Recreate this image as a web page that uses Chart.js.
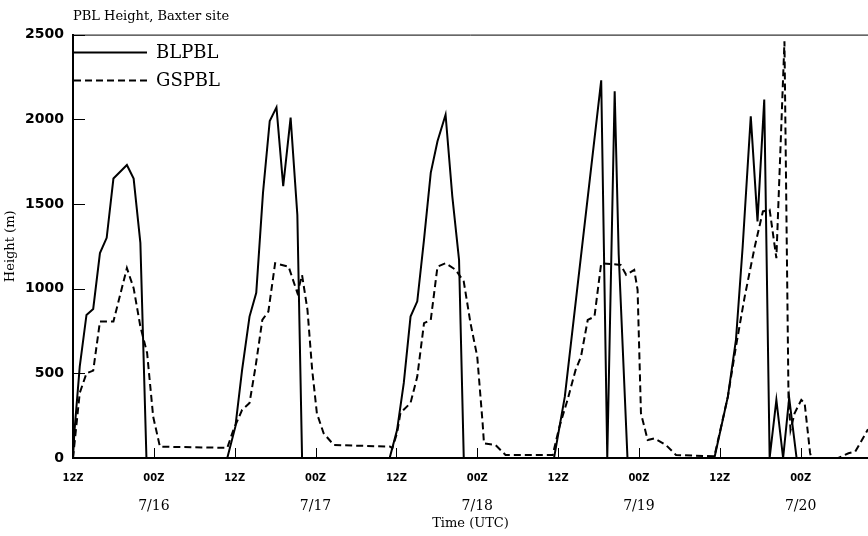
<!DOCTYPE html>
<html>
<head>
<meta charset="utf-8">
<script src="https://cdn.jsdelivr.net/npm/chart.js@4.4.1/dist/chart.umd.min.js"></script>
<style>
  html, body { margin: 0; padding: 0; background: #fff; }
  #c { display: block; }
</style>
</head>
<body>
<canvas id="c" width="868" height="536"></canvas>
<script>
// ---- Data (hours since 12Z 7/15, heights in m) ----
const blHours = [0, 0.2, 1, 2, 3, 4, 5, 6, 8, 9, 10, 10.9,
  22.9, 24.1, 25.1, 26.2, 27.2, 28.2, 29.2, 30.2, 31.2, 32.3, 33.3, 34.0,
  47.0, 48.1, 49.1, 50.1, 51.1, 52.1, 53.1, 54.1, 55.3, 56.3, 57.3, 58.0,
  71.4, 73.0, 78.4, 79.3, 80.4, 81.0, 82.3,
  95.2, 97.2, 98.4, 99.4, 100.6, 101.6, 102.6, 103.4, 104.4, 105.4, 106.3, 107.4, 118];
const blValues = [0, 150, 540, 845, 880, 1210, 1300, 1650, 1730, 1650, 1270, 0,
  0, 185, 520, 835, 975, 1565, 1990, 2070, 1605, 2010, 1435, 0,
  0, 165, 443, 835, 925, 1289, 1684, 1870, 2027, 1545, 1170, 0,
  0, 362, 2230, 0, 2165, 1200, 0,
  0, 362, 697, 1249, 2017, 1397, 2116, 0, 343, 0, 355, 0, 0];

const gsHours = [0, 1, 2, 3, 4, 6, 8, 9, 10, 11, 11.9, 12.9,
  22.9, 23.8, 25.1, 26.2, 27.1, 28.1, 29.0, 30.0, 32.0, 33.3, 34.0, 34.8, 35.5, 36.2, 37.2, 38.7,
  47.1, 47.4, 48.1, 48.6, 50.1, 51.1, 52.1, 53.1, 54.1, 55.3, 56.8, 58.0, 59.0, 60.0, 60.8, 61.0, 62.7, 64.2,
  71.2, 72.2, 73.4, 74.6, 75.4, 76.4, 77.4, 78.4, 81.3, 82.1, 83.3, 83.8, 84.3, 85.3, 86.3, 88.0, 89.5,
  95.2, 97.2, 98.4, 99.7, 101.2, 102.4, 103.4, 104.4, 105.6, 106.2, 106.5, 107.1, 108.1, 108.6, 109.4, 109.6,
  113.6, 115.1, 116.1, 117.1, 118];
const gsValues = [0, 384, 500, 516, 806, 806, 1121, 1003, 776, 620, 244, 67,
  60, 165, 284, 325, 540, 815, 865, 1150, 1130, 975, 1080, 875, 520, 264, 146, 77,
  67, 57, 148, 266, 325, 481, 796, 815, 1130, 1150, 1111, 1042, 796, 599, 205, 87, 77, 18,
  18, 185, 343, 520, 599, 815, 835, 1150, 1140, 1082, 1111, 993, 264, 106, 116, 77, 18,
  10, 362, 658, 953, 1249, 1456, 1466, 1180, 2460, 362, 165, 264, 343, 323, 30, 0,
  0, 28, 37, 106, 170];

const seriesNames = ['BLPBL', 'GSPBL'];
const yTicks = [0, 500, 1000, 1500, 2000, 2500];
const xTickHours = [0, 12, 24, 36, 48, 60, 72, 84, 96, 108];
const xTickLabels = ['12Z', '00Z', '12Z', '00Z', '12Z', '00Z', '12Z', '00Z', '12Z', '00Z'];
const dateHours = [12, 36, 60, 84, 108];
const dateLabels = ['7/16', '7/17', '7/18', '7/19', '7/20'];
const titleText = 'PBL Height, Baxter site';
const yTitle = 'Height (m)';
const xTitle = 'Time (UTC)';

const toPoints = (hs, vs) => hs.map((h, i) => ({ x: h, y: vs[i] }));

Chart.defaults.font.family = "'DejaVu Serif', serif";
Chart.defaults.color = '#000';

const deco = {
  id: 'deco',
  afterDraw(chart) {
    const { ctx, chartArea: a, scales } = chart;
    const x = scales.x, y = scales.y;
    ctx.save();
    ctx.strokeStyle = '#000';
    ctx.lineWidth = 1;
    ctx.beginPath();
    // top frame line
    ctx.moveTo(a.left, a.top + 0.5);
    ctx.lineTo(a.right, a.top + 0.5);
    // inward x ticks
    x.ticks.forEach(t => {
      if (t.value <= x.min || t.value >= x.max) return;
      const px = Math.round(x.getPixelForValue(t.value)) + 0.5;
      ctx.moveTo(px, a.bottom);
      ctx.lineTo(px, a.bottom - 10);
    });
    // inward y ticks
    y.ticks.forEach(t => {
      if (t.value <= y.min) return;
      const py = Math.round(y.getPixelForValue(t.value)) + 0.5;
      ctx.moveTo(a.left, py);
      ctx.lineTo(a.left + 12, py);
    });
    ctx.stroke();
    // legend inside the plot
    const rows = [18, 46];
    chart.data.datasets.forEach((ds, i) => {
      const ly = a.top + rows[i];
      ctx.beginPath();
      ctx.lineWidth = ds.borderWidth;
      ctx.setLineDash(ds.borderDash || []);
      ctx.moveTo(a.left + 1, ly);
      ctx.lineTo(a.left + 74, ly);
      ctx.stroke();
      ctx.setLineDash([]);
      ctx.fillStyle = '#000';
      ctx.font = "18px 'DejaVu Serif'";
      ctx.textBaseline = 'middle';
      ctx.textAlign = 'left';
      ctx.fillText(ds.label, a.left + 83, ly + 1);
    });
    ctx.restore();
  }
};

new Chart(document.getElementById('c'), {
  type: 'line',
  data: {
    datasets: [
      { label: seriesNames[0], data: toPoints(blHours, blValues), borderColor: '#000', borderWidth: 2,
        pointRadius: 0, tension: 0, fill: false },
      { label: seriesNames[1], data: toPoints(gsHours, gsValues), borderColor: '#000', borderWidth: 2,
        borderDash: [7, 4], pointRadius: 0, tension: 0, fill: false }
    ]
  },
  options: {
    responsive: false,
    devicePixelRatio: 1,
    animation: false,
    layout: { padding: { top: 0, right: 0, left: 0, bottom: 0 } },
    plugins: {
      legend: { display: false },
      tooltip: { enabled: false },
      title: {
        display: true, text: titleText, align: 'start', fullSize: false,
        font: { family: "'DejaVu Serif'", size: 13, weight: 'normal' },
        padding: { top: 9, bottom: 10 }
      }
    },
    scales: {
      x: {
        type: 'linear', position: 'bottom', weight: 0, min: 0, max: 118,
        grid: { display: false, drawTicks: false },
        border: { display: true, color: '#000', width: 2 },
        afterBuildTicks: s => { s.ticks = xTickHours.map(v => ({ value: v })); },
        ticks: {
          autoSkip: false, maxRotation: 0, padding: 14,
          font: { family: "'DejaVu Sans Condensed'", size: 11, weight: 'bold' },
          callback: v => xTickLabels[xTickHours.indexOf(v)]
        },
        afterFit: s => { s.height = 34; }
      },
      x2: {
        type: 'linear', position: 'bottom', weight: 1, min: 0, max: 118,
        grid: { display: false, drawTicks: false },
        border: { display: false },
        afterBuildTicks: s => { s.ticks = dateHours.map(v => ({ value: v })); },
        ticks: {
          autoSkip: false, maxRotation: 0, padding: 6,
          font: { family: "'DejaVu Serif'", size: 14 },
          callback: v => dateLabels[dateHours.indexOf(v)]
        },
        title: { display: true, text: xTitle, font: { family: "'DejaVu Serif'", size: 13 }, padding: { top: 0, bottom: 5 } },
        afterFit: s => { s.height = 44; }
      },
      y: {
        type: 'linear', min: 0, max: 2500,
        grid: { display: false, drawTicks: false },
        border: { display: true, color: '#000', width: 2 },
        afterBuildTicks: s => { s.ticks = yTicks.map(v => ({ value: v })); },
        ticks: {
          padding: 9,
          font: { family: "'DejaVu Sans'", size: 14, weight: 'bold' },
          callback: v => String(v)
        },
        title: { display: true, text: yTitle, font: { family: "'DejaVu Serif'", size: 13 }, padding: { top: 3, bottom: 0 } },
        afterFit: s => { s.width = 73; }
      }
    }
  },
  plugins: [deco]
});
</script>
</body>
</html>
